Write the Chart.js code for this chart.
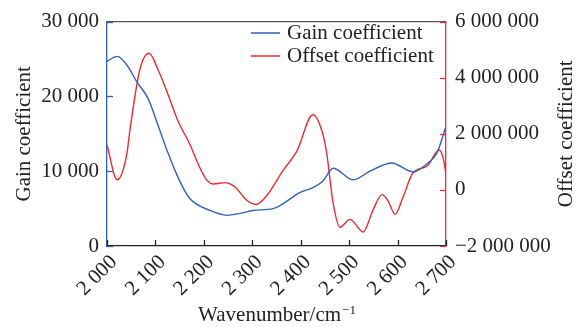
<!DOCTYPE html>
<html>
<head>
<meta charset="utf-8">
<script src="https://cdn.jsdelivr.net/npm/chart.js@4"></script>
<style>
html,body{margin:0;padding:0;background:#fff;}
#wrap{width:581px;height:327px;}
</style>
</head>
<body>
<div id="wrap"><canvas id="c" width="581" height="327"></canvas></div>
<script>
const gainWavenumbers = [2000,2021,2041,2062,2085,2105,2125,2150,2171,2213,2248,2275,2301,2343,2357,2398,2425,2446,2467,2508,2543,2588,2632,2661,2681,2700];
const gainValues = [24700,25350,24200,21900,19700,16200,12600,8700,6340,4750,4100,4360,4750,5000,5400,7130,7800,8700,10400,8850,10000,11100,9900,11000,12400,16000];

const offsetWavenumbers = [2000,2021,2041,2047,2068,2087,2105,2126,2147,2171,2192,2207,2220,2244,2258,2268,2289,2308,2330,2363,2392,2425,2444,2454,2460,2467,2481,2502,2529,2549,2568,2580,2595,2611,2632,2661,2686,2694,2700];
const offsetValues = [1600000,360000,1280000,2090000,4300000,4870000,4300000,3400000,2440000,1630000,780000,330000,210000,260000,180000,44000,-380000,-520000,-200000,680000,1380000,2680000,2090000,1280000,440000,-480000,-1330000,-1050000,-1500000,-730000,-170000,-380000,-870000,-270000,610000,850000,1420000,1140000,570000];

const xTicks = [2000,2100,2200,2300,2400,2500,2600,2700];
const gainTicks = [0,10000,20000,30000];
const offsetTicks = [-2000000,0,2000000,4000000,6000000];
const seriesNames = ['Gain coefficient','Offset coefficient'];
const axisTitles = {x:'Wavenumber/cm', xSup:'\u22121', y:'Gain coefficient', y1:'Offset coefficient'};

const BLUE = '#3060b8';
const RED = '#ee2a2e';
const FONT = 'Liberation Serif, Times New Roman, serif';

function fmt(v){
  const neg = v < 0;
  const s = Math.abs(v).toString().replace(/\B(?=(\d{3})+(?!\d))/g,' ');
  return (neg ? '\u2212' : '') + s;
}

const decor = {
  id:'decor',
  afterDraw(chart){
    const ctx = chart.ctx;
    const a = chart.chartArea;
    const sx = chart.scales.x, sy = chart.scales.y, sy1 = chart.scales.y1;
    ctx.save();
    ctx.lineWidth = 1.3;
    // top border
    ctx.strokeStyle = '#555';
    ctx.beginPath(); ctx.moveTo(a.left, a.top); ctx.lineTo(a.right, a.top); ctx.stroke();
    // bottom ticks
    ctx.strokeStyle = '#222';
    xTicks.forEach(v=>{
      const p = Math.round(sx.getPixelForValue(v))+0.5;
      ctx.beginPath(); ctx.moveTo(p, a.bottom); ctx.lineTo(p, a.bottom-6); ctx.stroke();
    });
    // left ticks
    ctx.strokeStyle = BLUE;
    gainTicks.forEach(v=>{
      const p = Math.round(sy.getPixelForValue(v))+0.5;
      ctx.beginPath(); ctx.moveTo(a.left, p); ctx.lineTo(a.left+6, p); ctx.stroke();
    });
    // right ticks
    ctx.strokeStyle = RED;
    offsetTicks.forEach(v=>{
      const p = Math.round(sy1.getPixelForValue(v))+0.5;
      ctx.beginPath(); ctx.moveTo(a.right, p); ctx.lineTo(a.right-6, p); ctx.stroke();
    });
    // legend
    ctx.font = '21px ' + FONT;
    ctx.textBaseline = 'middle';
    ctx.textAlign = 'left';
    [[BLUE, 33], [RED, 56]].forEach((c,i)=>{
      ctx.strokeStyle = c[0]; ctx.lineWidth = 1.5;
      ctx.beginPath(); ctx.moveTo(251, c[1]); ctx.lineTo(280, c[1]); ctx.stroke();
      ctx.fillStyle = '#222';
      ctx.fillText(seriesNames[i], 287, c[1]);
    });
    // axis titles
    const cy = (a.top + a.bottom)/2;
    ctx.fillStyle = '#222';
    ctx.textAlign = 'center';
    ctx.save(); ctx.translate(24, cy); ctx.rotate(-Math.PI/2); ctx.fillText(axisTitles.y, 0, 0); ctx.restore();
    ctx.save(); ctx.translate(566, cy); ctx.rotate(-Math.PI/2); ctx.fillText(axisTitles.y1, 0, 0); ctx.restore();
    // x title with superscript
    ctx.font = '21px ' + FONT;
    const w1 = ctx.measureText(axisTitles.x).width;
    ctx.font = '13px ' + FONT;
    const w2 = ctx.measureText(axisTitles.xSup).width;
    const cx = (a.left + a.right)/2;
    const x0 = cx - (w1 + w2)/2;
    ctx.textAlign = 'left';
    ctx.textBaseline = 'alphabetic';
    ctx.font = '21px ' + FONT;
    ctx.fillText(axisTitles.x, x0, 321);
    ctx.font = '13px ' + FONT;
    ctx.fillText(axisTitles.xSup, x0 + w1 + 1, 314);
    ctx.restore();
  }
};

new Chart(document.getElementById('c'), {
  type:'line',
  data:{
    datasets:[
      {label:seriesNames[0], data:gainWavenumbers.map((x,i)=>({x, y:gainValues[i]})), yAxisID:'y', borderColor:BLUE, borderWidth:1.4, pointRadius:0, cubicInterpolationMode:'monotone', fill:false},
      {label:seriesNames[1], data:offsetWavenumbers.map((x,i)=>({x, y:offsetValues[i]})), yAxisID:'y1', borderColor:RED, borderWidth:1.4, pointRadius:0, cubicInterpolationMode:'monotone', fill:false}
    ]
  },
  options:{
    responsive:false,
    animation:false,
    layout:{padding:{top:19, left:0, right:0, bottom:0}},
    plugins:{legend:{display:false}, tooltip:{enabled:false}},
    scales:{
      x:{
        type:'linear', position:'bottom', min:2000, max:2700,
        afterBuildTicks(s){ s.ticks = xTicks.map(v=>({value:v})); },
        ticks:{font:{family:FONT, size:21}, color:'#222', maxRotation:45, minRotation:45, padding:4, labelOffset:7, callback:v=>fmt(v), autoSkip:false},
        grid:{display:false, drawTicks:false},
        border:{display:true, color:'#222', width:1.3},
        afterFit(s){ s.height = 81; }
      },
      y:{
        type:'linear', position:'left', min:0, max:30000,
        afterBuildTicks(s){ s.ticks = gainTicks.map(v=>({value:v})); },
        ticks:{font:{family:FONT, size:21}, color:'#222', padding:8, callback:v=>fmt(v)},
        grid:{display:false, drawTicks:false},
        border:{display:true, color:BLUE, width:1.3},
        afterFit(s){ s.width = 107; }
      },
      y1:{
        type:'linear', position:'right', min:-2000000, max:6000000,
        afterBuildTicks(s){ s.ticks = offsetTicks.map(v=>({value:v})); },
        ticks:{font:{family:FONT, size:21}, color:'#222', padding:9, callback:v=>fmt(v)},
        grid:{display:false, drawTicks:false},
        border:{display:true, color:RED, width:1.3},
        afterFit(s){ s.width = 135; }
      }
    }
  },
  plugins:[decor]
});
</script>
</body>
</html>
